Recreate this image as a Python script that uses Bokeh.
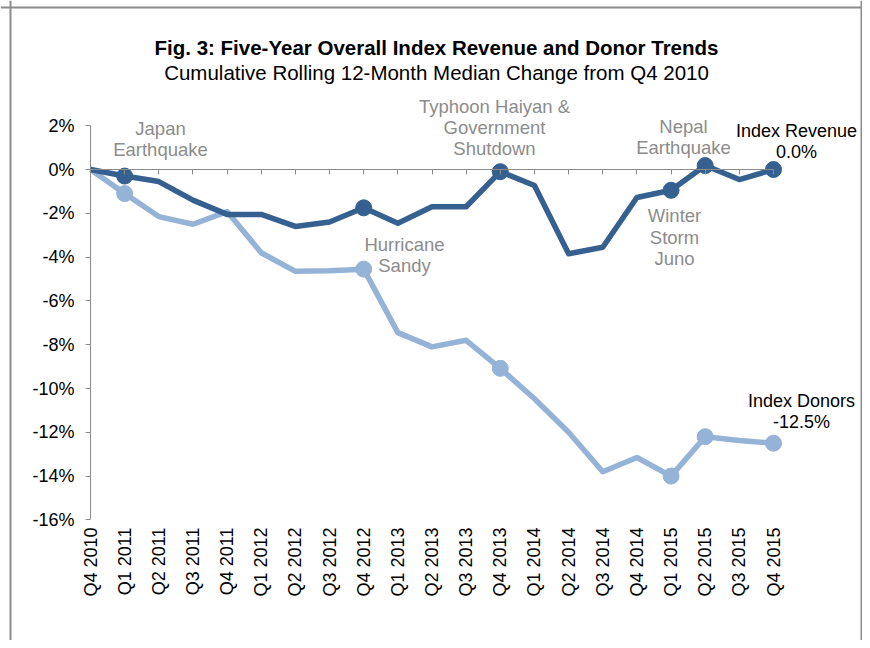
import math
from bokeh.plotting import figure
from bokeh.models import (ColumnDataSource, LinearAxis, FixedTicker, Range1d, Label, Span)
from bokeh.embed import file_html
from bokeh.resources import INLINE

quarters = ["Q4 2010", "Q1 2011", "Q2 2011", "Q3 2011", "Q4 2011", "Q1 2012", "Q2 2012",
            "Q3 2012", "Q4 2012", "Q1 2013", "Q2 2013", "Q3 2013", "Q4 2013", "Q1 2014",
            "Q2 2014", "Q3 2014", "Q4 2014", "Q1 2015", "Q2 2015", "Q3 2015", "Q4 2015"]
revenue = [0.0, -0.3, -0.55, -1.4, -2.05, -2.05, -2.6, -2.4, -1.75, -2.45, -1.7, -1.7,
           -0.1, -0.73, -3.85, -3.55, -1.28, -0.95, 0.18, -0.46, 0.0]
donors = [0.0, -1.1, -2.15, -2.5, -1.92, -3.8, -4.65, -4.62, -4.55, -7.45, -8.1, -7.8,
          -9.08, -10.47, -12.0, -13.8, -13.15, -14.0, -12.2, -12.37, -12.5]
marker_idx = [1, 8, 12, 17, 18, 20]
y_ticks = [2, 0, -2, -4, -6, -8, -10, -12, -14, -16]

DARK = "#35608f"
LIGHT = "#95b3d7"
GREY_TXT = "#8c8c8c"
AXIS_GREY = "#8c8c8c"
FONT = "Liberation Sans"

W, H = 862, 640
x0_px, dx_px = 90.0, 34.15      # canvas x of Q4 2010, spacing
y0_px, dy_px = 169.0, 21.9      # canvas y of 0%, px per 1%

p = figure(width=W, height=H, output_backend="svg", toolbar_location=None,
           title=None, x_axis_type=None, y_axis_type=None,
           min_border=0, min_border_left=0, min_border_right=0,
           min_border_top=0, min_border_bottom=0)
p.x_range = Range1d(-x0_px / dx_px, (W - x0_px) / dx_px)
p.y_range = Range1d((y0_px - H) / dy_px, y0_px / dy_px)
p.xgrid.visible = False
p.ygrid.visible = False
p.outline_line_color = None
p.background_fill_color = "white"
p.border_fill_color = "white"

n = len(quarters)
xs = list(range(n))

# y axis at x = 0 (Q4 2010)
yax = LinearAxis(fixed_location=0, bounds=(-16, 2))
yax.ticker = FixedTicker(ticks=y_ticks)
yax.major_label_overrides = {t: f"{t}%" for t in y_ticks}
yax.axis_line_color = AXIS_GREY
yax.major_tick_line_color = AXIS_GREY
yax.major_tick_out = 5
yax.major_tick_in = 0
yax.minor_tick_line_color = None
yax.major_label_text_font = FONT
yax.major_label_text_font_size = "18px"
yax.major_label_text_color = "black"
yax.major_label_standoff = 11
p.add_layout(yax, "left")

# category axis: line at 0%, labels pushed to the bottom of the plot
xax = LinearAxis(fixed_location=0, bounds=(0, n - 1))
xax.ticker = FixedTicker(ticks=xs)
xax.major_label_overrides = {i: q for i, q in enumerate(quarters)}
xax.major_label_orientation = math.pi / 2
xax.axis_line_color = AXIS_GREY
xax.major_tick_line_color = AXIS_GREY
xax.major_tick_out = 5
xax.major_tick_in = 0
xax.minor_tick_line_color = None
xax.major_label_text_font = FONT
xax.major_label_text_font_size = "18px"
xax.major_label_text_color = "black"
xax.major_label_standoff = 353
p.add_layout(xax, "below")

src_rev = ColumnDataSource(dict(x=xs, y=revenue))
src_don = ColumnDataSource(dict(x=xs, y=donors))
p.line("x", "y", source=src_don, line_color=LIGHT, line_width=5.5, line_join="round")
p.line("x", "y", source=src_rev, line_color=DARK, line_width=5.5, line_join="round")
p.scatter([xs[i] for i in marker_idx], [donors[i] for i in marker_idx],
          size=16, fill_color=LIGHT, line_color=LIGHT)
p.scatter([xs[i] for i in marker_idx], [revenue[i] for i in marker_idx],
          size=16, fill_color=DARK, line_color=DARK)


def px2x(px):
    return (px - x0_px) / dx_px


def py2y(py):
    return (y0_px - py) / dy_px


def add_text(text, cx, cy, color, size="18px", style="normal"):
    p.add_layout(Label(x=px2x(cx), y=py2y(cy), text=text, text_align="center",
                       text_baseline="middle", text_font=FONT, text_font_size=size,
                       text_color=color, text_font_style=style))


add_text("Fig. 3: Five-Year Overall Index Revenue and Donor Trends", 436, 47, "black", "20.5px", "bold")
add_text("Cumulative Rolling 12-Month Median Change from Q4 2010", 436, 72, "black", "20.5px")

ann = [
    (["Japan", "Earthquake"], 160, [128, 149]),
    (["Hurricane", "Sandy"], 404, [244, 265]),
    (["Typhoon Haiyan &", "Government", "Shutdown"], 494, [106, 127, 148]),
    (["Nepal", "Earthquake"], 683, [126, 147]),
    (["Winter", "Storm", "Juno"], 674, [215, 237, 258]),
]
for lines, cx, cys in ann:
    for t, cy in zip(lines, cys):
        add_text(t, cx, cy, GREY_TXT, "18.5px")

add_text("Index Revenue", 796, 130, "black", "18px")
add_text("0.0%", 796, 151, "black", "18px")
add_text("Index Donors", 801, 400, "black", "18px")
add_text("-12.5%", 801, 421, "black", "18px")

# outer frame (left, right, top), placed through the plot's own scales
BORDER = "#8c8c8c"
p.add_layout(Span(location=px2x(10), dimension="height", line_color=BORDER, line_width=2))
p.add_layout(Span(location=px2x(W - 1), dimension="height", line_color=BORDER, line_width=2))
p.add_layout(Span(location=py2y(7), dimension="width", line_color=BORDER, line_width=2))

open("out.html", "w").write(file_html(p, INLINE))
